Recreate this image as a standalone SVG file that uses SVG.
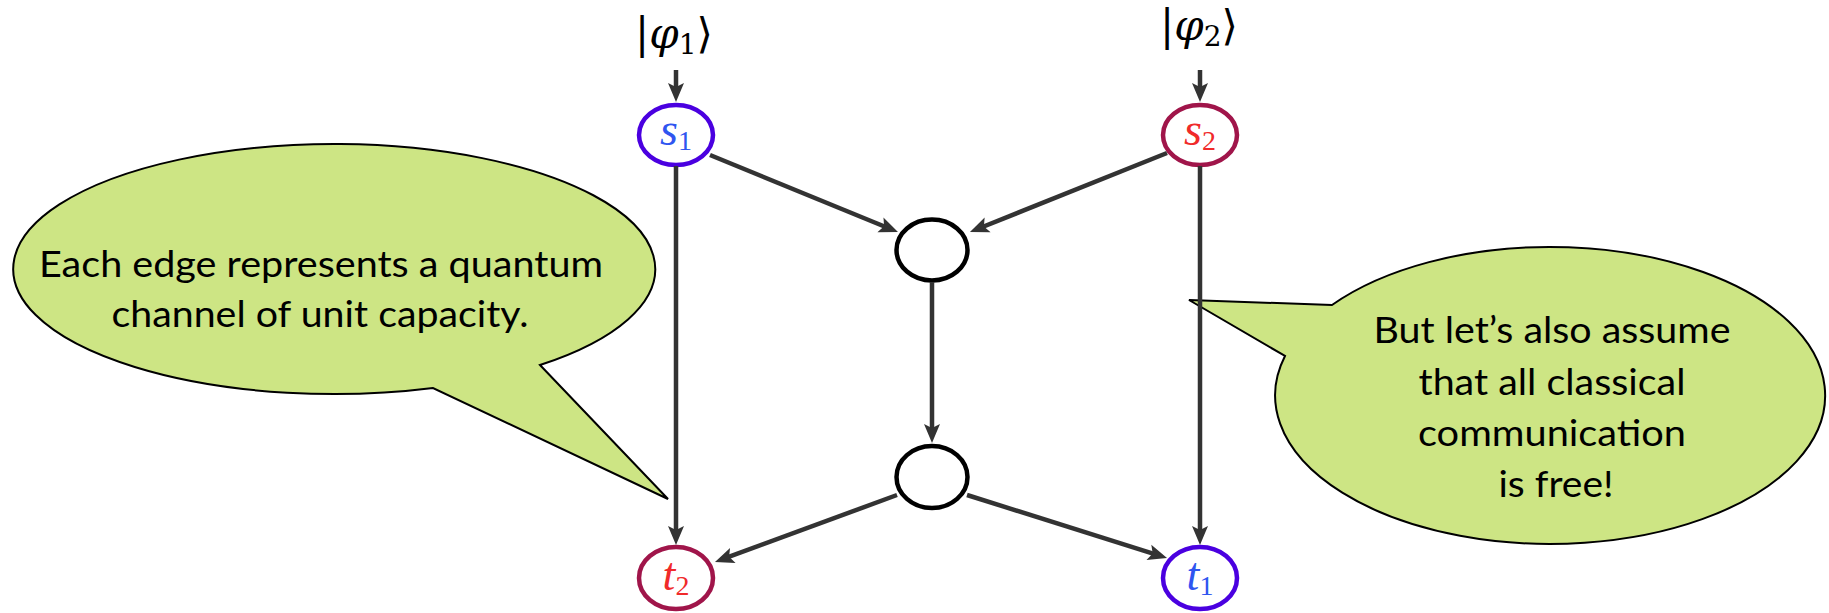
<svg xmlns="http://www.w3.org/2000/svg" width="1829" height="613" viewBox="0 0 1829 613">
  <style>
    .callout { fill: #cde584; stroke: #000; stroke-width: 2; stroke-linejoin: miter; }
    .say { font-family: Lato, "Open Sans", "Liberation Sans", sans-serif; font-size: 36px; fill: #000; text-anchor: middle; }
    .node { fill: #fff; stroke-width: 4.5; }
    .src { stroke: #4a00e0; }
    .snk { stroke: #a0154a; }
    .mid { stroke: #000; }
    .lab { font-family: "Liberation Serif", "Times New Roman", serif; font-size: 46px; font-style: italic; text-anchor: middle; }
    .sub { font-size: 28px; font-style: normal; }
    .blue { fill: #2f55f0; }
    .red { fill: #f02a2a; }
    .ket { font-family: "DejaVu Serif", "DejaVu Sans", serif; font-size: 42px; fill: #000; text-anchor: middle; }
    .edge { stroke: #333; stroke-width: 4.5; fill: none; marker-end: url(#arrow); }
  </style>
  <defs>
    <marker id="arrow" markerUnits="userSpaceOnUse" markerWidth="26" markerHeight="22" viewBox="-13 -11 26 22" refX="0" refY="0" orient="auto">
      <path d="M8,0 L-11,-8 L-7,0 L-11,8 Z" fill="#333"/>
    </marker>
  </defs>

  <!-- speech bubbles -->
  <g id="callout-edges">
    <path class="callout" d="M540,365 L668,499 L433,388 A321,125 0 1 1 540,365 Z"/>
    <text class="say" x="321" y="277" textLength="564" lengthAdjust="spacingAndGlyphs">Each edge represents a quantum</text>
    <text class="say" x="320" y="327" textLength="417" lengthAdjust="spacingAndGlyphs">channel of unit capacity.</text>
  </g>
  <g id="callout-classical">
    <path class="callout" d="M1332,305 L1189,300 L1285,356 A275,148.5 0 1 0 1332,305 Z"/>
    <text class="say" x="1552" y="343" textLength="357" lengthAdjust="spacingAndGlyphs">But let’s also assume</text>
    <text class="say" x="1552" y="395" textLength="267" lengthAdjust="spacingAndGlyphs">that all classical</text>
    <text class="say" x="1552" y="446" textLength="268" lengthAdjust="spacingAndGlyphs">communication</text>
    <text class="say" x="1556" y="497" textLength="115" lengthAdjust="spacingAndGlyphs">is free!</text>
  </g>

  <!-- input states -->
  <g id="input-phi1">
    <text class="ket" x="674" y="48">|<tspan font-style="italic">φ</tspan><tspan font-size="28" dy="6">1</tspan><tspan dy="-6">⟩</tspan></text>
  </g>
  <g id="input-phi2">
    <text class="ket" x="1199" y="40">|<tspan font-style="italic">φ</tspan><tspan font-size="28" dy="6">2</tspan><tspan dy="-6">⟩</tspan></text>
  </g>

  <!-- nodes -->
  <g id="node-s1">
    <ellipse class="node src" cx="676" cy="135" rx="37" ry="30"/>
    <text class="lab blue" x="676" y="145">s<tspan class="sub" dy="5">1</tspan></text>
  </g>
  <g id="node-s2">
    <ellipse class="node snk" cx="1200" cy="135" rx="37" ry="30"/>
    <text class="lab red" x="1200" y="145">s<tspan class="sub" dy="5">2</tspan></text>
  </g>
  <g id="node-m1">
    <ellipse class="node mid" cx="932" cy="250" rx="35.5" ry="30.5"/>
  </g>
  <g id="node-m2">
    <ellipse class="node mid" cx="932" cy="477" rx="35.5" ry="31"/>
  </g>
  <g id="node-t2">
    <ellipse class="node snk" cx="676" cy="578" rx="37" ry="31"/>
    <text class="lab red" x="676" y="590">t<tspan class="sub" dy="5">2</tspan></text>
  </g>
  <g id="node-t1">
    <ellipse class="node src" cx="1200" cy="578" rx="37" ry="31"/>
    <text class="lab blue" x="1200" y="590">t<tspan class="sub" dy="5">1</tspan></text>
  </g>

  <!-- connectors -->
  <g id="edges">
    <line class="edge" x1="676" y1="70" x2="676" y2="94"/>
    <line class="edge" x1="1200" y1="70" x2="1200" y2="94"/>
    <line class="edge" x1="676" y1="166" x2="676" y2="537"/>
    <line class="edge" x1="1200" y1="166" x2="1200" y2="537"/>
    <line class="edge" x1="710" y1="155" x2="890.6" y2="229"/>
    <line class="edge" x1="1167" y1="153" x2="977.4" y2="229"/>
    <line class="edge" x1="932" y1="282" x2="932" y2="435"/>
    <line class="edge" x1="897" y1="495" x2="722.5" y2="559.2"/>
    <line class="edge" x1="967" y1="495" x2="1159.4" y2="555.6"/>
  </g>
</svg>
